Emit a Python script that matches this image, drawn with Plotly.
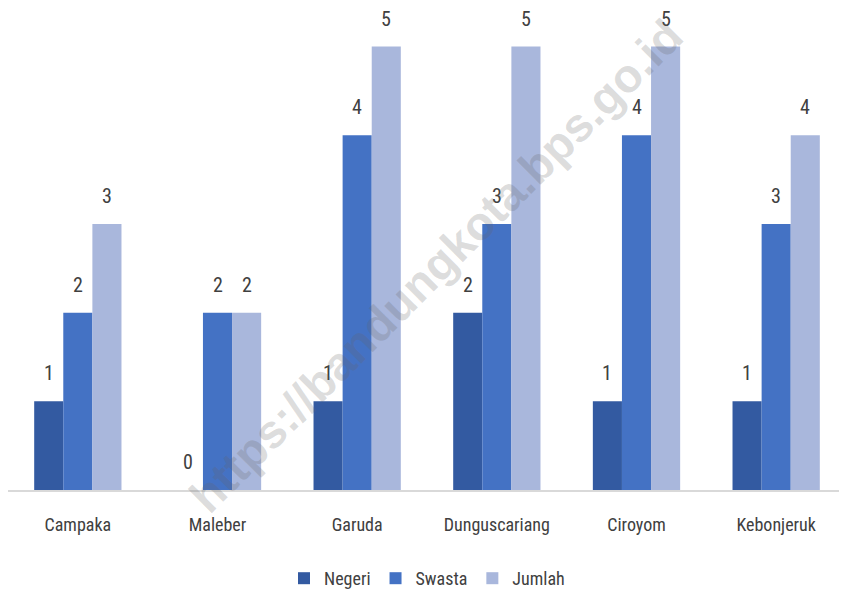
import plotly.graph_objects as go

categories = ["Campaka", "Maleber", "Garuda", "Dunguscariang", "Ciroyom", "Kebonjeruk"]
negeri = [1, 0, 1, 2, 1, 1]
swasta = [2, 2, 4, 3, 4, 3]
jumlah = [3, 2, 5, 5, 5, 4]
series_names = ["Negeri", "Swasta", "Jumlah"]
series_values = [negeri, swasta, jumlah]
colors = ["#335AA1", "#4472C4", "#A9B7DC"]

FONT = "Roboto Condensed, Liberation Sans Narrow, Roboto, sans-serif"
TXT = "#404040"

W, H = 847, 589
ML, MR, MT, MB = 0, 9, 12, 101
BARGAP = 0.375

fig = go.Figure()
for name, vals, col in zip(series_names, series_values, colors):
    fig.add_trace(go.Bar(x=categories, y=vals, name=name, marker=dict(color=col, line=dict(width=0))))

# data labels above bars
plot_w = W - ML - MR
cat_w = plot_w / len(categories)
bar_w = cat_w * (1 - BARGAP) / len(series_names)
for i, vals in enumerate(series_values):
    for c, v in zip(categories, vals):
        fig.add_annotation(x=c, y=v, xref="x", yref="y", text=str(v), showarrow=False,
                           xshift=(i - 1) * bar_w, yshift=14, yanchor="bottom",
                           font=dict(family=FONT, size=20, color=TXT))

fig.add_annotation(text="<b>https://bandungkota.bps.go.id</b>", xref="paper", yref="paper",
                   x=0.511, y=0.478, showarrow=False, textangle=-45,
                   font=dict(family="Liberation Sans, Arial, sans-serif", size=47,
                             color="rgba(100,100,100,0.22)"))

fig.update_layout(
    width=W, height=H,
    margin=dict(l=ML, r=MR, t=MT, b=MB),
    barmode="group", bargap=BARGAP, bargroupgap=0,
    plot_bgcolor="white", paper_bgcolor="white",
    font=dict(family=FONT, size=17, color=TXT),
    showlegend=True,
    legend=dict(orientation="h", x=0.5, xanchor="center", y=-0.15, yanchor="top",
                font=dict(family=FONT, size=18, color=TXT)),
    xaxis=dict(showline=True, linecolor="#D9D9D9", linewidth=2, ticks="",
               ticklabelstandoff=17, tickfont=dict(family=FONT, size=18, color=TXT)),
    yaxis=dict(range=[0, 5.3], showgrid=False, showticklabels=False, zeroline=False),
)

fig.write_html("out.html")
